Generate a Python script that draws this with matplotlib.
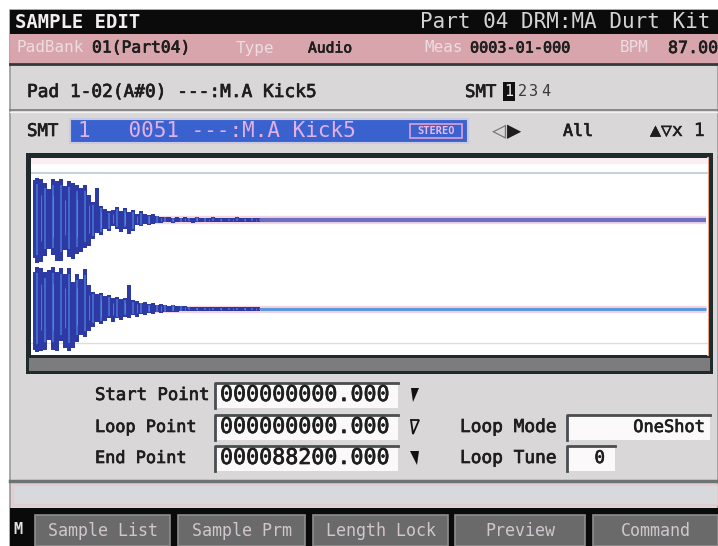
import numpy as np
import matplotlib.pyplot as plt
import matplotlib.patheffects as pe
from matplotlib.patches import Rectangle, Polygon

# texts on the screen
title_left = "SAMPLE EDIT"
title_right = "Part 04 DRM:MA Durt Kit"
info_labels = ["PadBank", "Type", "Meas", "BPM"]          # faded labels in pink bar
info_values = ["01(Part04)", "Audio", "0003-01-000", "87.00"]
pad_line = "Pad 1-02(A#0) ---:M.A Kick5"
smt_line = "1   0051 ---:M.A Kick5"
field_names = ["Start Point", "Loop Point", "End Point"]
field_values = ["000000000.000", "000000000.000", "000088200.000"]
loop_names = ["Loop Mode", "Loop Tune"]
loop_values = ["OneShot", "0"]
buttons = ["Sample List", "Sample Prm", "Length Lock", "Preview", "Command"]
end_point = 88200      # samples
col_step = 523         # samples per waveform column

# waveform peaks (normalised), one value per column
ch1_top = [0.92, 0.97, 0.95, 0.86, 0.72, 0.95, 0.9, 0.96, 0.78, 0.9, 0.86, 0.8, 0.74, 0.8, 0.58, 0.42, 0.75, 0.32,
           0.26, 0.2, 0.24, 0.3, 0.2, 0.28, 0.18, 0.22, 0.15, 0.2, 0.15, 0.12, 0.15, 0.1, 0.08, 0.07,
           0.06, 0.05, 0.07, 0.05, 0.08, 0.05, 0.05, 0.07, 0.04, 0.05, 0.04, 0.06, 0.04, 0.04, 0.05, 0.04,
           0.04, 0.06, 0.04, 0.04, 0.04, 0.05, 0.04, 0.04]
ch1_bot = [0.88, 1.0, 0.98, 0.84, 0.68, 0.8, 0.95, 0.94, 0.7, 0.85, 0.9, 0.78, 0.75, 0.64, 0.6, 0.45, 0.3, 0.35,
           0.2, 0.25, 0.15, 0.2, 0.28, 0.2, 0.33, 0.25, 0.12, 0.15, 0.1, 0.12, 0.1, 0.08, 0.06, 0.05,
           0.05, 0.06, 0.04, 0.05, 0.05, 0.04, 0.06, 0.04, 0.04, 0.05, 0.04, 0.04, 0.05, 0.04, 0.04, 0.04,
           0.05, 0.04, 0.04, 0.04, 0.04, 0.04, 0.04, 0.04]
ch2_top = [0.85, 0.98, 0.95, 0.85, 0.9, 0.98, 0.85, 0.95, 0.8, 0.96, 0.62, 0.8, 0.7, 0.92, 0.55, 0.4, 0.35, 0.38,
           0.3, 0.32, 0.25, 0.28, 0.22, 0.25, 0.55, 0.2, 0.18, 0.15, 0.16, 0.12, 0.14, 0.1, 0.12, 0.1,
           0.08, 0.1, 0.07, 0.08, 0.06, 0.05, 0.05, 0.04, 0.04, 0.04, 0.04, 0.04, 0.04, 0.04, 0.04, 0.04,
           0.04, 0.04, 0.04, 0.04, 0.04, 0.04, 0.04, 0.04]
ch2_bot = [0.95, 1.0, 0.97, 0.95, 0.72, 0.96, 0.98, 0.75, 0.9, 0.98, 0.9, 0.76, 0.6, 0.65, 0.52, 0.42, 0.3, 0.35,
           0.28, 0.2, 0.3, 0.22, 0.25, 0.18, 0.2, 0.15, 0.18, 0.12, 0.15, 0.1, 0.12, 0.08, 0.1, 0.08,
           0.07, 0.06, 0.08, 0.05, 0.05, 0.04, 0.04, 0.04, 0.04, 0.04, 0.04, 0.04, 0.04, 0.04, 0.04, 0.04,
           0.04, 0.04, 0.04, 0.04, 0.04, 0.04, 0.04, 0.04]

fig = plt.figure(figsize=(7.18, 5.46), dpi=100)
fig.patch.set_facecolor("white")
ax = fig.add_axes([0, 0, 1, 1])
ax.set_xlim(0, 718)
ax.set_ylim(546, 0)
ax.axis("off")
rend = fig.canvas.get_renderer()
FONT = "DejaVu Sans Mono"
INK = "#1e1e1e"


def put(x, y, s, size=12.5, w=None, color=INK, ha="left", thick=0.5, **kw):
    # text at a given size; if w is given, stretch the size a bit towards that pixel width
    t = ax.text(x, y, s, fontsize=size, color=color, ha=ha, va="center", family=FONT, **kw)
    if thick:
        t.set_path_effects([pe.withStroke(linewidth=thick, foreground=color)])
    if w:
        bw = t.get_window_extent(renderer=rend).width
        t.set_fontsize(min(max(size * w / bw, size * 0.85), size * 1.2))
    return t


def box(x, y, w, h, fc, ec="none", lw=0, z=1):
    ax.add_patch(Rectangle((x, y), w, h, fc=fc, ec=ec, lw=lw, zorder=z))


# screen body
box(10, 10, 708, 536, "#d9d7d8", "#9a9a9a", 1.2)
# title bar
box(10, 10, 708, 24, "#0b0b0b")
put(15, 22, title_left, 12, 125, "#f2eef0", weight="bold", thick=0)
put(420, 22, title_right, 12.5, 295, "#d4d4d4", thick=0)
# pink info bar
box(10, 34, 708, 29, "#d9a5ad")
ax.plot([10, 718], [64, 64], color="#303838", lw=2)
lab_x = [16, 236, 424, 620]
val_x = [92, 308, 470, 668]
val_w = [98, 44, 100, 50]
for i in range(4):
    put(lab_x[i], 48, info_labels[i], 11.5, None, "#ebdde1", thick=0)
    put(val_x[i], 48, info_values[i], 12, val_w[i])

# pad line
put(27, 92, pad_line, 12.5, 291)
put(465, 92, "SMT", 12.5)
box(503, 82, 12, 19, "#111111")
put(509, 92, "1", 11, None, "#f0f0f0", ha="center", thick=0)
for k, sx in enumerate([522, 534, 546]):
    put(sx, 92, str(k + 2), 11, None, "#3a3a3a", ha="center", thick=0)
ax.plot([10, 718], [110, 110], color="#7a7a7a", lw=1.2)
ax.plot([10, 718], [112, 112], color="#f2f2f2", lw=1)

# SMT row
put(27, 131, "SMT", 12.5)
box(70, 119, 398, 24, "#3a62cf", "#c8cbe0", 1.5)
put(78, 131, smt_line, 12.5, 283, "#e2b0e4", thick=0)
box(410, 124, 52, 14, "#3a62cf", "#e0a0d8", 1.2, z=2)
put(436, 131, "STEREO", 7.5, None, "#f0b8e8", ha="center", zorder=3, weight="bold", thick=0)
put(492, 131, "\u25c1", 17, None, "#777777", thick=0)
put(507, 131, "\u25b6", 17, None, INK, thick=0)
put(563, 131, "All", 12)
put(650, 131, "\u25b2\u25bdx 1", 12.5, 55, thick=0.3)

# waveform frame
box(26, 153, 687, 221, "#1f2a2c")
box(29, 358, 681, 13, "#7c7c7c", z=2)

wx = fig.add_axes([31 / 718, 1 - 355 / 546, 677 / 718, 197 / 546])
wx.set_facecolor("white")
wx.set_xlim(-261, end_point + 261)
wx.set_ylim(-2.034, 2.393)
wx.set_xticks([])
wx.set_yticks([])
for sp in wx.spines.values():
    sp.set_visible(False)
wx.axhspan(2.25, 2.393, color="#fbeef0", lw=0)
wx.axhline(2.056, color="#b9cad6", lw=1.2)
wx.axhline(-1.764, color="#dddddd", lw=1)

t = np.arange(len(ch1_top)) * col_step
amp = 0.97
for off, top, bot, flat_c, flat_w in [(1.0, ch1_top, ch1_bot, "#6870c4", 3.0),
                                      (-1.0, ch2_top, ch2_bot, "#5b98d8", 2.2)]:
    wx.plot([0, end_point], [off, off], color="#f4d2e2", lw=flat_w + 3, solid_capstyle="butt", zorder=0.5)
    wx.plot([t[-1], end_point], [off, off], color=flat_c, lw=flat_w, solid_capstyle="butt", zorder=1)
    top = np.array(top)
    bot = np.array(bot)
    wx.fill_between(t, off - bot * amp, off + top * amp, step="mid", color="#2d3aa6", lw=0, zorder=2)
    # lighter streaks inside the body of the wave
    wx.vlines(t[1::2], off - bot[1::2] * amp * 0.8, off + top[1::2] * amp * 0.85,
              colors="#4a78d0", lw=1.1, zorder=3)
    wx.vlines(t[2::3], off - bot[2::3] * amp * 0.5, off + top[2::3] * amp * 0.6,
              colors="#b06cc8", lw=0.7, alpha=0.7, zorder=3)

# start / end markers at the top corners
ax.add_patch(Polygon([(31, 158), (39, 158), (31, 167)], fc="#f0a050", zorder=5))
ax.add_patch(Polygon([(708, 158), (699, 158), (708, 168)], fc="#f07a40", zorder=5))
ax.plot([708, 708], [158, 355], color="#f0a080", lw=1.5, zorder=5)

# point fields
rows_y = [395, 427, 458]
for i in range(3):
    put(95, rows_y[i], field_names[i], 12.5, [115, 102, 92][i])
    y0 = rows_y[i] - 12
    box(215, y0, 183, 25, "#fbf9fa")
    ax.plot([215, 215, 398], [y0 + 25, y0, y0], color="#4a4e50", lw=2)
    put(220, rows_y[i], field_values[i], 13, 173)
# marker flags
ax.add_patch(Polygon([(411, 388), (419, 388), (413, 402)], fc="#111111"))
ax.add_patch(Polygon([(411, 420), (419, 420), (413, 434)], fc="none", ec="#111111", lw=1.3))
ax.add_patch(Polygon([(410, 451), (419, 451), (417, 465)], fc="#111111"))

for i in range(2):
    y = rows_y[i + 1]
    put(460, y, loop_names[i], 12.5, 97)
    bw = [143, 48][i]
    box(567, y - 12, bw, 25, "#fbf9fa")
    ax.plot([567, 567, 567 + bw], [y + 13, y - 12, y - 12], color="#4a4e50", lw=2)
put(705, 427, loop_values[0], 12.5, 72, ha="right")
put(605, 458, loop_values[1], 12.5, None, ha="right")

# message bar
ax.plot([10, 718], [481, 481], color="#6d7272", lw=2.5)
box(13, 485, 705, 20, "#d8d9dd", "#e8c8cc", 1.2)

# function buttons
box(10, 508, 708, 38, "#0a0a0a")
put(13, 530, "M", 11, None, "#e6e0e6", weight="bold", thick=0)
bx = [35, 178, 313, 455, 593]
bw_ = [135, 127, 135, 130, 125]
for i, name in enumerate(buttons):
    box(bx[i], 515, bw_[i], 31, "#6a6a6a", "#8e8e8e", 1.2)
    put(bx[i] + bw_[i] / 2, 531, name, 12, None, "#d2c6ce", ha="center", thick=0)

fig.savefig("out.png", dpi=100)
